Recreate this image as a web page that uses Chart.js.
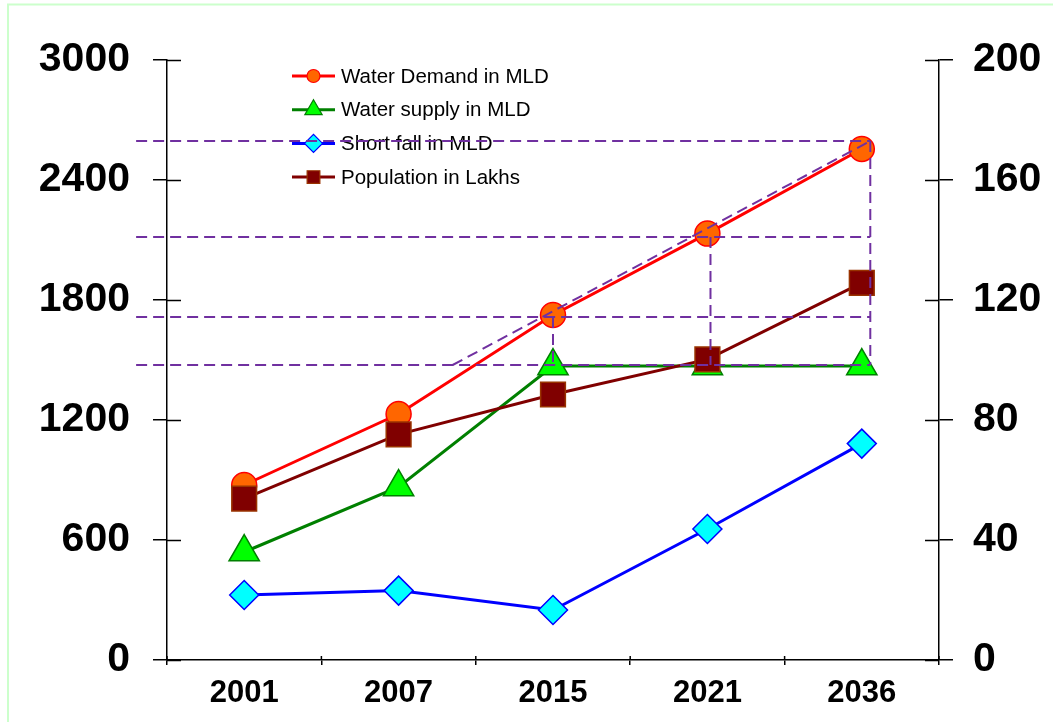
<!DOCTYPE html>
<html>
<head>
<meta charset="utf-8">
<script src="https://cdn.jsdelivr.net/npm/chart.js@4/dist/chart.umd.min.js"></script>
<style>
  html, body { margin: 0; padding: 0; background: #fff; overflow: hidden; }
  canvas { display: block; }
</style>
</head>
<body>
<canvas id="c" width="1053" height="722"></canvas>
<script>
// Years on the horizontal axis
const years = ['2001', '2007', '2015', '2021', '2036'];

// Series values (MLD on the left axis, lakhs on the right axis)
const waterDemand = [875, 1230, 1725, 2132, 2555];
const waterSupply = [540, 865, 1470, 1470, 1470];
const shortFall = [325, 347, 250, 655, 1082];
const population = [53.8, 75.2, 88.5, 100.2, 125.7];

// Axis tick values
const mldTicks = [0, 600, 1200, 1800, 2400, 3000];
const lakhTicks = [0, 40, 80, 120, 160, 200];

// Dashed reference lines: MLD levels, drop lines and trend, positions in year-index units
const guideLevels = [2595, 2115, 1715, 1475];
const guideSpan = [-0.7, 4.055];
const dropAt = [2, 3.02, 4.055];
const dropTop = [1715, 2115, 2595];
const trendStart = [1.35, 1475];
const trendEnd = [4.055, 2595];

const FONT = "'Liberation Sans', Arial, Helvetica, sans-serif";
const GUIDE_COLOR = '#7030A0';

const guideBase = {
  type: 'line', xAxisID: 'xg', yAxisID: 'y',
  borderColor: GUIDE_COLOR, borderWidth: 2, borderDash: [11, 6],
  pointRadius: 0, fill: false, clip: false, order: 0, tension: 0
};
const guideSets = [];
guideLevels.forEach(v => guideSets.push(Object.assign({}, guideBase, {
  data: [{ x: guideSpan[0], y: v }, { x: guideSpan[1], y: v }]
})));
dropAt.forEach((p, i) => guideSets.push(Object.assign({}, guideBase, {
  data: [{ x: p, y: dropTop[i] }, { x: p, y: guideLevels[guideLevels.length - 1] }]
})));
guideSets.push(Object.assign({}, guideBase, {
  data: [{ x: trendStart[0], y: trendStart[1] }, { x: trendEnd[0], y: trendEnd[1] }]
}));

const seriesSets = [
  {
    label: 'Water Demand in MLD', data: waterDemand, xAxisID: 'x', yAxisID: 'y',
    borderColor: '#FF0000', borderWidth: 3,
    pointStyle: 'circle', pointRadius: 12.5,
    pointBackgroundColor: '#FF6600', pointBorderColor: '#FF0000', pointBorderWidth: 1.5,
    legendRadius: 6.5, order: 4
  },
  {
    label: 'Water supply in MLD', data: waterSupply, xAxisID: 'x', yAxisID: 'y',
    borderColor: '#008000', borderWidth: 3,
    pointStyle: 'triangle', pointRadius: 17.5,
    pointBackgroundColor: '#00FF00', pointBorderColor: '#008000', pointBorderWidth: 1.5,
    legendRadius: 10, order: 3
  },
  {
    label: 'Short fall in MLD', data: shortFall, xAxisID: 'x', yAxisID: 'y',
    borderColor: '#0000FF', borderWidth: 3,
    pointStyle: 'rectRot', pointRadius: 14.5,
    pointBackgroundColor: '#00FFFF', pointBorderColor: '#0000FF', pointBorderWidth: 1.5,
    legendRadius: 9, order: 2
  },
  {
    label: 'Population in Lakhs', data: population, xAxisID: 'x', yAxisID: 'y1',
    borderColor: '#800000', borderWidth: 3,
    pointStyle: 'rect', pointRadius: 17.5,
    pointBackgroundColor: '#800000', pointBorderColor: '#993300', pointBorderWidth: 1.5,
    legendRadius: 9, order: 1
  }
];

// Light green frame around the figure
const framePlugin = {
  id: 'frame',
  beforeDraw(chart) {
    const ctx = chart.ctx;
    ctx.save();
    ctx.fillStyle = '#fff';
    ctx.fillRect(0, 0, chart.width, chart.height);
    ctx.strokeStyle = '#CCFFCC';
    ctx.lineWidth = 2;
    ctx.strokeRect(8, 4.5, chart.width + 20, chart.height + 20);
    ctx.restore();
  }
};

// Tick marks that cross the axis lines (inner half)
const crossTicks = {
  id: 'crossTicks',
  afterDraw(chart) {
    const ctx = chart.ctx;
    const s = chart.scales;
    const area = chart.chartArea;
    ctx.save();
    ctx.strokeStyle = '#000';
    ctx.lineWidth = 1.5;
    ctx.beginPath();
    mldTicks.forEach(v => {
      const py = Math.round(s.y.getPixelForValue(v)) + 0.5;
      ctx.moveTo(area.left, py); ctx.lineTo(area.left + 14, py);
    });
    lakhTicks.forEach(v => {
      const py = Math.round(s.y1.getPixelForValue(v)) + 0.5;
      ctx.moveTo(area.right - 14, py); ctx.lineTo(area.right, py);
    });
    for (let i = 0; i <= years.length; i++) {
      const px = s.xg.getPixelForValue(i - 0.5);
      ctx.moveTo(px, area.bottom); ctx.lineTo(px, area.bottom - 4);
    }
    ctx.stroke();
    ctx.restore();
  }
};

// Legend placed inside the plot area
const innerLegend = {
  id: 'innerLegend',
  beforeDatasetsDraw(chart) {
    const ctx = chart.ctx;
    const x0 = 292, x1 = 335, tx = 341, top = 76, step = 33.7;
    ctx.save();
    seriesSets.forEach((ds, i) => {
      const y = top + i * step;
      ctx.strokeStyle = ds.borderColor;
      ctx.lineWidth = 3;
      ctx.setLineDash([]);
      ctx.beginPath();
      ctx.moveTo(x0, y); ctx.lineTo(x1, y);
      ctx.stroke();
      ctx.fillStyle = ds.pointBackgroundColor;
      ctx.strokeStyle = ds.pointBorderColor;
      ctx.lineWidth = 1.2;
      Chart.helpers.drawPoint(ctx, {
        pointStyle: ds.pointStyle, radius: ds.legendRadius, borderWidth: 1.2, rotation: 0
      }, (x0 + x1) / 2, y);
      ctx.fillStyle = '#000';
      ctx.font = '20.5px ' + FONT;
      ctx.textAlign = 'left';
      ctx.textBaseline = 'middle';
      ctx.fillText(ds.label, tx, y + 1);
    });
    ctx.restore();
  }
};

const axisFont = { family: FONT, size: 41, weight: 'bold' };
const plainNumber = v => String(v);

new Chart(document.getElementById('c'), {
  type: 'line',
  data: { labels: years, datasets: seriesSets.concat(guideSets) },
  plugins: [framePlugin, innerLegend, crossTicks],
  options: {
    responsive: false,
    animation: false,
    events: [],
    layout: { padding: { top: 60, left: 0, right: 0, bottom: 0 } },
    plugins: { legend: { display: false }, tooltip: { enabled: false }, title: { display: false } },
    scales: {
      x: {
        type: 'category', position: 'bottom', offset: true,
        grid: { display: true, drawOnChartArea: false, drawTicks: true, tickLength: 5, offset: true, color: '#000', lineWidth: 1.5 },
        border: { display: true, color: '#000', width: 1.5 },
        ticks: { font: { family: FONT, size: 31, weight: 'bold' }, color: '#000', padding: 10, maxRotation: 0, autoSkip: false },
        afterFit(scale) { scale.height = 62; }
      },
      xg: {
        type: 'linear', display: false, position: 'bottom', min: -0.5, max: 4.5
      },
      y: {
        type: 'linear', position: 'left', min: 0, max: 3000,
        grid: { display: true, drawOnChartArea: false, drawTicks: true, tickLength: 14, color: '#000', lineWidth: 1.5 },
        border: { display: true, color: '#000', width: 1.5 },
        ticks: { font: axisFont, color: '#000', padding: 23, callback: plainNumber },
        afterBuildTicks(scale) { scale.ticks = mldTicks.map(v => ({ value: v })); },
        afterFit(scale) { scale.width = 167; }
      },
      y1: {
        type: 'linear', position: 'right', min: 0, max: 200,
        grid: { display: true, drawOnChartArea: false, drawTicks: true, tickLength: 14, color: '#000', lineWidth: 1.5 },
        border: { display: true, color: '#000', width: 1.5 },
        ticks: { font: axisFont, color: '#000', padding: 20, callback: plainNumber },
        afterBuildTicks(scale) { scale.ticks = lakhTicks.map(v => ({ value: v })); },
        afterFit(scale) { scale.width = 114; }
      }
    }
  }
});
</script>
</body>
</html>
